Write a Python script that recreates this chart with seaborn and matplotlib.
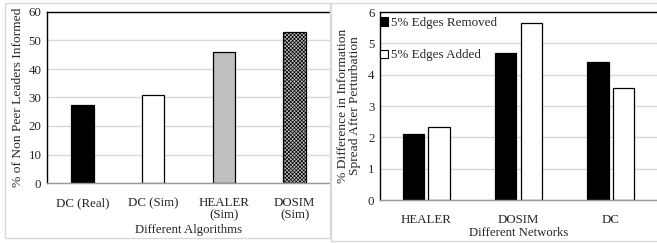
import matplotlib
matplotlib.use("Agg")
import matplotlib.pyplot as plt
import seaborn as sns
import pandas as pd
from matplotlib.patches import Rectangle, Patch

sns.set_theme(style="white")
plt.rcParams['font.family'] = ['Liberation Serif', 'DejaVu Serif']
plt.rcParams['hatch.color'] = '#4a4a4a'
plt.rcParams['hatch.linewidth'] = 0.5

# Left chart data
algorithms = ["DC (Real)", "DC (Sim)", "HEALER\n(Sim)", "DOSIM\n(Sim)"]
informed = [27.5, 31.0, 46.0, 53.0]

# Right chart data
networks = ["HEALER", "DOSIM", "DC"]
removed = [2.1, 4.68, 4.42]
added = [2.32, 5.65, 3.58]
series_names = ["5% Edges Removed", "5% Edges Added"]

W, H = 657, 243
fig = plt.figure(figsize=(W / 100, H / 100), dpi=100)
fig.patch.set_facecolor('white')

def fx(px):
    return px / W

def fy(py):
    return 1 - py / H

# panel frames
fig.patches.append(Rectangle((fx(5), fy(238)), fx(330) - fx(5), fy(3) - fy(238),
                             transform=fig.transFigure, fill=False, edgecolor='#d9d9d9', lw=1))
fig.patches.append(Rectangle((fx(331), fy(241)), fx(660) - fx(331), fy(3) - fy(241),
                             transform=fig.transFigure, fill=False, edgecolor='#d9d9d9', lw=1))

fs_tick = 9.3
fs_xl = 9.2
fs_yl = 9.7
fs_leg = 9.4

# ---- Left chart ----
ax1 = fig.add_axes([fx(47), fy(183), fx(330) - fx(47), fy(12) - fy(183)])
df1 = pd.DataFrame({"alg": algorithms, "val": informed})
sns.barplot(data=df1, x="alg", y="val", ax=ax1, width=0.32, color="white",
            edgecolor="black", linewidth=0.9)
fills = ["black", "white", "#bfbfbf", "#bcbcbc"]
for p, c in zip(ax1.patches, fills):
    p.set_facecolor(c)
ax1.patches[3].set_hatch("xxxxxxxxx")
ax1.set_ylim(0, 60)
ax1.set_yticks(range(0, 61, 10))
ax1.yaxis.grid(True, color='#d9d9d9', lw=1)
ax1.set_axisbelow(True)
ax1.set_xlabel("Different Algorithms", fontsize=fs_xl, labelpad=2)
ax1.set_ylabel("% of Non Peer Leaders Informed", fontsize=fs_yl, labelpad=3)
ax1.tick_params(axis='both', labelsize=fs_tick, length=0, pad=4)
ax1.tick_params(axis='x', pad=10)
for t in ax1.get_xticklabels():
    t.set_linespacing(1.0)
for s in ['top', 'left']:
    ax1.spines[s].set_color('black')
    ax1.spines[s].set_linewidth(1.0)
ax1.spines['right'].set_visible(False)
ax1.spines['bottom'].set_color('#9a9a9a')
ax1.spines['bottom'].set_linewidth(1.0)

# ---- Right chart ----
ax2 = fig.add_axes([fx(380), fy(200), fx(657) - fx(380), fy(12) - fy(200)])
df2 = pd.DataFrame({
    "net": networks * 2,
    "val": removed + added,
    "series": [series_names[0]] * 3 + [series_names[1]] * 3,
})
sns.barplot(data=df2, x="net", y="val", hue="series", ax=ax2, width=0.56, gap=0.18,
            palette=["black", "white"], edgecolor="black", linewidth=0.9, legend=False)
ax2.set_ylim(0, 6)
ax2.set_yticks(range(0, 7))
ax2.yaxis.grid(True, color='#d9d9d9', lw=1)
ax2.set_axisbelow(True)
ax2.set_xlabel("Different Networks", fontsize=fs_xl, labelpad=1)
ax2.set_ylabel("% Difference in Information\nSpread After Perturbation", fontsize=fs_yl,
               labelpad=5, linespacing=1.05)
ax2.tick_params(axis='both', labelsize=fs_tick, length=0, pad=4)
ax2.tick_params(axis='x', pad=10)
for s in ['top', 'left']:
    ax2.spines[s].set_color('black')
    ax2.spines[s].set_linewidth(1.0)
ax2.spines['right'].set_visible(False)
ax2.spines['bottom'].set_color('#9a9a9a')
ax2.spines['bottom'].set_linewidth(1.0)

handles = [Patch(facecolor="black", edgecolor="black", lw=0.8),
           Patch(facecolor="white", edgecolor="black", lw=0.8)]
ax2.legend(handles, series_names, loc="upper left", bbox_to_anchor=(-0.018, 1.0),
           frameon=False, fontsize=fs_leg, handlelength=0.6, handleheight=0.6,
           handletextpad=0.25, labelspacing=1.55, borderaxespad=0)

fig.savefig("out.png", dpi=100, facecolor='white')
